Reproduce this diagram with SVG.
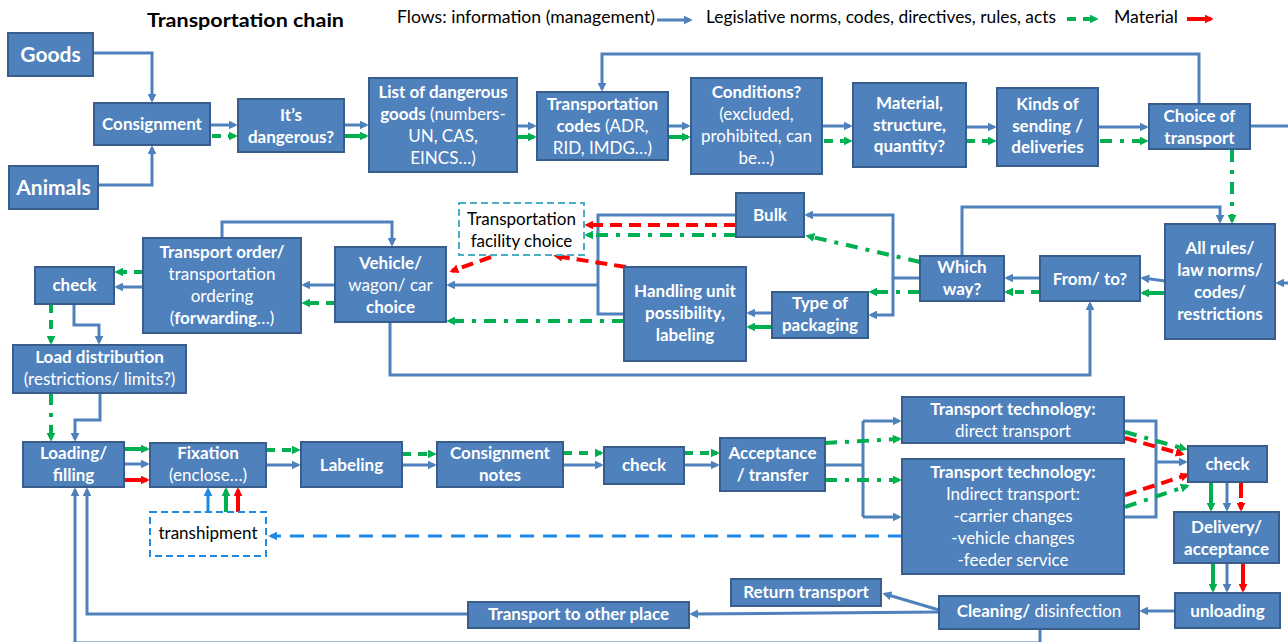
<svg xmlns="http://www.w3.org/2000/svg" width="1288" height="642" viewBox="0 0 1288 642">
<style>
.box{fill:#4F81BD;stroke:#385D8A;stroke-width:2}
.t{font-family:Lato,"Liberation Sans",sans-serif;font-size:17px;fill:#fff;text-anchor:middle;font-weight:bold}
.n{font-weight:normal}
.big{font-size:21px}
.sm{font-size:17px}
.k{font-family:Lato,"Liberation Sans",sans-serif;font-size:17px;fill:#000}
.b{stroke:#4F81BD;stroke-width:3;fill:none}
.ba{stroke:#4F81BD;stroke-width:3;fill:none;marker-end:url(#ab)}
.g{stroke:#00B050;stroke-width:4;fill:none;marker-end:url(#ag)}
.gd{stroke-dasharray:9 7}
.gdd{stroke-dasharray:12 8 4 8}
.r{stroke:#FF0000;stroke-width:4;fill:none;marker-end:url(#ar)}
.rd{stroke-dasharray:12 7}
.lb{stroke:#1E88E5;stroke-width:3;fill:none;marker-end:url(#al)}
</style>
<defs>
<marker id="ab" viewBox="0 0 10 10" refX="7" refY="5" markerWidth="9" markerHeight="9" markerUnits="userSpaceOnUse" orient="auto"><path d="M0,0 L10,5 L0,10 Z" fill="#4F81BD"/></marker>
<marker id="ag" viewBox="0 0 10 10" refX="7" refY="5" markerWidth="9" markerHeight="9" markerUnits="userSpaceOnUse" orient="auto"><path d="M0,0 L10,5 L0,10 Z" fill="#00B050"/></marker>
<marker id="ar" viewBox="0 0 10 10" refX="7" refY="5" markerWidth="9" markerHeight="9" markerUnits="userSpaceOnUse" orient="auto"><path d="M0,0 L10,5 L0,10 Z" fill="#FF0000"/></marker>
<marker id="al" viewBox="0 0 10 10" refX="7" refY="5" markerWidth="9" markerHeight="9" markerUnits="userSpaceOnUse" orient="auto"><path d="M0,0 L10,5 L0,10 Z" fill="#1E88E5"/></marker>
</defs>
<rect width="1288" height="642" fill="#fff"/>

<g id="title">
<text x="147" y="27" font-family="Lato,'Liberation Sans',sans-serif" font-size="18" font-weight="bold" fill="#000" textLength="197" lengthAdjust="spacingAndGlyphs">Transportation chain</text>
</g>
<g id="legend">
<text class="k" x="397" y="23" textLength="258" lengthAdjust="spacingAndGlyphs">Flows: information (management)</text>
<text class="k" x="706" y="23" textLength="350" lengthAdjust="spacingAndGlyphs">Legislative norms, codes, directives, rules, acts</text>
<text class="k" x="1114" y="23" textLength="64" lengthAdjust="spacingAndGlyphs">Material</text>
<path class="ba" d="M657,20 H690"/>
<path class="g gd" d="M1067,19 H1096"/>
<path class="r" d="M1187,19 H1211"/>
</g>

<g id="connectors">
<!-- blue information flows -->
<path class="ba" d="M93,53 H152 V100"/>
<path class="ba" d="M98,185 H152 V148"/>
<path class="ba" d="M210,125 H235"/>
<path class="ba" d="M344,125 H366"/>
<path class="ba" d="M517,126 H534"/>
<path class="ba" d="M668,126 H688"/>
<path class="ba" d="M822,126 H850"/>
<path class="ba" d="M966,127 H994"/>
<path class="ba" d="M1098,127 H1146"/>
<path class="ba" d="M1199,104 V54 H602 V89"/>
<path class="b" d="M1250,126 H1290"/>
<path class="ba" d="M1290,283 H1278"/>
<path class="ba" d="M962,256 V207 H1220 V221"/>
<path class="ba" d="M1165,281 L1143,278"/>
<path class="ba" d="M1040,278 H1007"/>
<path class="ba" d="M920,278 H893 V215 H807"/>
<path class="ba" d="M893,278 V315 H871"/>
<path class="ba" d="M772,313 H749"/>
<path class="b" d="M736,215 H598 V314 H624"/>
<path class="ba" d="M598,285 H449"/>
<path class="ba" d="M390,322 V375 H1090 V304"/>
<path class="ba" d="M222,238 V222 H392 V244"/>
<path class="ba" d="M335,285 H304"/>
<path class="ba" d="M143,287 H117"/>
<path class="ba" d="M74,304 V325 H99 V342"/>
<path class="ba" d="M100,393 V420 H75 V439"/>
<path class="ba" d="M124,464 H147"/>
<path class="ba" d="M266,465 H298"/>
<path class="ba" d="M402,465 H434"/>
<path class="ba" d="M563,465 H601"/>
<path class="ba" d="M684,465 H717"/>
<path class="b" d="M825,465 H863 M863,421 V517"/>
<path class="ba" d="M863,421 H899"/>
<path class="ba" d="M863,517 H899"/>
<path class="b" d="M1124,421 H1156 V517 H1124"/>
<path class="ba" d="M1156,462 H1185"/>
<path class="ba" d="M1227,482 V509"/>
<path class="ba" d="M1227,563 V590"/>
<path class="ba" d="M1175,611 H1142"/>
<path class="ba" d="M939,610 L885,594"/>
<path class="ba" d="M939,612 L692,614"/>
<path class="ba" d="M468,614 H87 V490"/>
<path class="ba" d="M1040,629 V643 H75 V490"/>
<path class="lb" d="M208,512 V490"/>
<path class="lb" d="M902,536 H271" stroke-dasharray="14 9"/>

<!-- green legislative flows -->
<path class="g gd" d="M212,136 H235"/>
<path class="g" d="M344,136 H366"/>
<path class="g" d="M517,137 H534"/>
<path class="g" d="M668,137 H688"/>
<path class="g gd" d="M824,141 H850"/>
<path class="g gd" d="M966,141 H994"/>
<path class="g gdd" d="M1100,141 H1146"/>
<path class="g gdd" d="M1232,150 V221"/>
<path class="g" d="M1165,293 H1143"/>
<path class="g gd" d="M1040,292 H1007"/>
<path class="g gdd" d="M920,262 L808,236"/>
<path class="g gdd" d="M920,292 H871"/>
<path class="g" d="M772,327 H749"/>
<path class="g gdd" d="M736,235 H587"/>
<path class="g gdd" d="M624,321 H449"/>
<path class="g gd" d="M335,303 H304"/>
<path class="g gd" d="M143,272 H117"/>
<path class="g gd" d="M51,304 V342"/>
<path class="g gdd" d="M51,393 V439"/>
<path class="g" d="M124,449 H147"/>
<path class="g gd" d="M266,450 H298"/>
<path class="g gd" d="M402,454 H434"/>
<path class="g gd" d="M563,453 H601"/>
<path class="g gd" d="M684,453 H717"/>
<path class="g gdd" d="M825,443 L899,439"/>
<path class="g gdd" d="M825,480 H899"/>
<path class="g gdd" d="M1125,432 L1185,449"/>
<path class="g gdd" d="M1125,507 L1187,486"/>
<path class="g" d="M1211,482 V509"/>
<path class="g" d="M1213,563 V590"/>
<path class="g" d="M226,512 V490"/>

<!-- red material flows -->
<path class="r" d="M124,480 H147"/>
<path class="r rd" d="M736,225 H587"/>
<path class="r rd" d="M626,267 L556,256"/>
<path class="r rd" d="M491,257 L452,271"/>
<path class="r rd" d="M1125,438 L1182,454"/>
<path class="r rd" d="M1125,495 L1187,475"/>
<path class="r" d="M1241,482 V509" stroke-dasharray="16 4"/>
<path class="r" d="M1243,563 V590"/>
<path class="r" d="M238,512 V490"/>
</g>

<g id="goods"><rect class="box" x="8" y="33" width="85" height="43"/><text class="t big" x="50.5" y="62">Goods</text></g>
<g id="animals"><rect class="box" x="9" y="166" width="89" height="43"/><text class="t big" x="53.5" y="195">Animals</text></g>
<g id="consignment"><rect class="box" x="94" y="103" width="116" height="42"/><text class="t" x="152" y="130">Consignment</text></g>
<g id="dangerous"><rect class="box" x="238" y="99" width="106" height="53"/><text class="t" x="291" y="121">It’s</text><text class="t" x="291" y="143">dangerous?</text></g>
<g id="list"><rect class="box" x="369" y="78" width="148" height="94"/>
<text class="t" x="443" y="98">List of dangerous</text>
<text class="t" x="443" y="120">goods<tspan class="n"> (numbers-</tspan></text>
<text class="t n" x="443" y="142">UN, CAS,</text>
<text class="t n" x="443" y="164">EINCS…)</text></g>
<g id="codes"><rect class="box" x="537" y="92" width="131" height="68"/>
<text class="t" x="602.5" y="110">Transportation</text>
<text class="t" x="602.5" y="132">codes<tspan class="n"> (ADR,</tspan></text>
<text class="t n" x="602.5" y="154">RID, IMDG…)</text></g>
<g id="conditions"><rect class="box" x="691" y="78" width="131" height="96"/>
<text class="t" x="756.5" y="98">Conditions?</text>
<text class="t n" x="756.5" y="120">(excluded,</text>
<text class="t n" x="756.5" y="142">prohibited, can</text>
<text class="t n" x="756.5" y="164">be…)</text></g>
<g id="material"><rect class="box" x="853" y="83" width="113" height="84"/>
<text class="t" x="909.5" y="109">Material,</text><text class="t" x="909.5" y="131">structure,</text><text class="t" x="909.5" y="152">quantity?</text></g>
<g id="kinds"><rect class="box" x="997" y="88" width="101" height="78"/>
<text class="t" x="1047.5" y="110">Kinds of</text><text class="t" x="1047.5" y="132">sending /</text><text class="t" x="1047.5" y="153">deliveries</text></g>
<g id="choice"><rect class="box" x="1149" y="104" width="101" height="45"/>
<text class="t" x="1199.5" y="122">Choice of</text><text class="t" x="1199.5" y="144">transport</text></g>
<g id="allrules"><rect class="box" x="1165" y="224" width="110" height="115"/>
<text class="t" x="1220" y="254">All rules/</text><text class="t" x="1220" y="276">law norms/</text><text class="t" x="1220" y="298">codes/</text><text class="t" x="1220" y="320">restrictions</text></g>
<g id="fromto"><rect class="box" x="1040" y="256" width="100" height="45"/><text class="t" x="1090" y="285">From/ to?</text></g>
<g id="whichway"><rect class="box" x="920" y="256" width="84" height="45"/><text class="t" x="962" y="273">Which</text><text class="t" x="962" y="295">way?</text></g>
<g id="bulk"><rect class="box" x="736" y="193" width="68" height="44"/><text class="t" x="770" y="221">Bulk</text></g>
<g id="packaging"><rect class="box" x="772" y="292" width="96" height="46"/><text class="t" x="820" y="309">Type of</text><text class="t" x="820" y="331">packaging</text></g>
<g id="handling"><rect class="box" x="624" y="267" width="122" height="94"/>
<text class="t" x="685" y="297">Handling unit</text><text class="t" x="685" y="319">possibility,</text><text class="t" x="685" y="341">labeling</text></g>
<g id="facility"><rect x="459" y="203" width="125" height="52" fill="#fff" stroke="#4BACC6" stroke-width="2" stroke-dasharray="7 4"/>
<text class="k" x="521.5" y="225" text-anchor="middle">Transportation</text><text class="k" x="521.5" y="247" text-anchor="middle">facility choice</text></g>
<g id="vehicle"><rect class="box" x="335" y="247" width="111" height="75"/>
<text class="t" x="390.5" y="269">Vehicle/</text><text class="t n" x="390.5" y="291">wagon/ car</text><text class="t" x="390.5" y="313">choice</text></g>
<g id="order"><rect class="box" x="143" y="238" width="158" height="95"/>
<text class="t" x="222" y="258">Transport order/</text><text class="t n" x="222" y="280">transportation</text><text class="t n" x="222" y="302">ordering</text>
<text class="t n" x="222" y="324">(<tspan font-weight="bold">forwarding</tspan>…)</text></g>
<g id="check1"><rect class="box" x="35" y="267" width="79" height="37"/><text class="t" x="74.5" y="291">check</text></g>
<g id="load"><rect class="box" x="13" y="345" width="173" height="48"/>
<text class="t" x="99.5" y="363">Load distribution</text><text class="t n" x="99.5" y="385">(restrictions/ limits?)</text></g>
<g id="loading"><rect class="box" x="23" y="442" width="101" height="45"/><text class="t" x="73.5" y="459">Loading/</text><text class="t" x="73.5" y="481">filling</text></g>
<g id="fixation"><rect class="box" x="150" y="443" width="116" height="44"/><text class="t" x="208" y="459">Fixation</text><text class="t n" x="208" y="481">(enclose…)</text></g>
<g id="transhipment"><rect x="150" y="512" width="116" height="44" fill="#fff" stroke="#1E88E5" stroke-width="2" stroke-dasharray="7 4"/>
<text class="k" x="208" y="539" text-anchor="middle">transhipment</text></g>
<g id="labeling"><rect class="box" x="301" y="442" width="101" height="45"/><text class="t" x="351.5" y="471">Labeling</text></g>
<g id="notes"><rect class="box" x="437" y="442" width="126" height="45"/><text class="t" x="500" y="459">Consignment</text><text class="t" x="500" y="481">notes</text></g>
<g id="check2"><rect class="box" x="604" y="447" width="80" height="37"/><text class="t" x="644" y="471">check</text></g>
<g id="acceptance"><rect class="box" x="720" y="438" width="105" height="53"/><text class="t" x="772.5" y="459">Acceptance</text><text class="t" x="772.5" y="481">/ transfer</text></g>
<g id="direct"><rect class="box" x="902" y="397" width="222" height="46"/>
<text class="t" x="1013" y="415">Transport technology:</text><text class="t n" x="1013" y="437">direct transport</text></g>
<g id="indirect"><rect class="box" x="902" y="459" width="222" height="115"/>
<text class="t" x="1013" y="478">Transport technology:</text><text class="t n" x="1013" y="500">Indirect transport:</text>
<text class="t n" x="1013" y="522">-carrier changes</text><text class="t n" x="1013" y="544">-vehicle changes</text><text class="t n" x="1013" y="566">-feeder service</text></g>
<g id="check3"><rect class="box" x="1188" y="446" width="79" height="36"/><text class="t" x="1227.5" y="470">check</text></g>
<g id="delivery"><rect class="box" x="1174" y="512" width="105" height="51"/><text class="t" x="1226.5" y="533">Delivery/</text><text class="t" x="1226.5" y="555">acceptance</text></g>
<g id="unloading"><rect class="box" x="1175" y="593" width="105" height="35"/><text class="t" x="1227.5" y="617">unloading</text></g>
<g id="cleaning"><rect class="box" x="939" y="596" width="200" height="33"/><text class="t" x="1039" y="617">Cleaning/<tspan class="n"> disinfection</tspan></text></g>
<g id="return"><rect class="box" x="731" y="579" width="150" height="27"/><text class="t sm" x="806" y="598">Return transport</text></g>
<g id="other"><rect class="box" x="468" y="602" width="221" height="26"/><text class="t sm" x="578.5" y="620">Transport to other place</text></g>
</svg>
